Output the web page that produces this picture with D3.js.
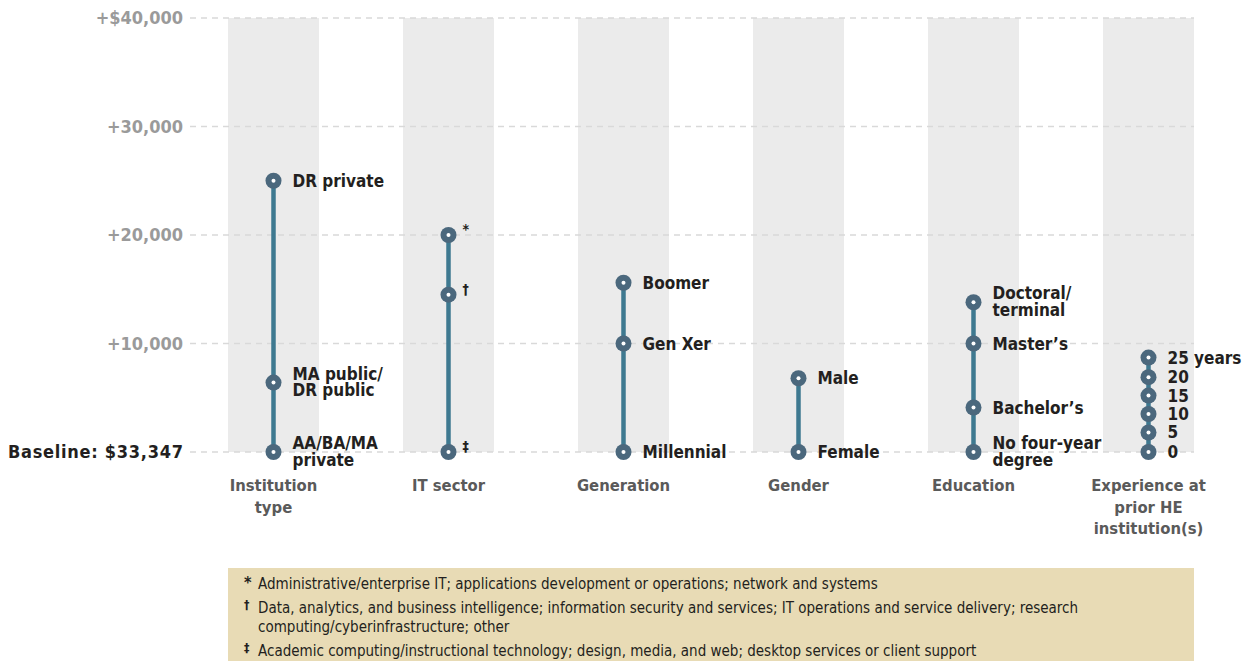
<!DOCTYPE html>
<html>
<head>
<meta charset="utf-8">
<script src="https://cdn.jsdelivr.net/npm/d3@7"></script>
<style>
  body { margin: 0; background: #fff; }
  svg text { font-family: "DejaVu Sans Condensed", "DejaVu Sans", sans-serif; }
</style>
</head>
<body>
<div id="chart"></div>
<script>
// categories along the x axis (label lines)
const categories = ["Institution type", "IT sector", "Generation", "Gender", "Education", "Experience at prior HE institution(s)"];
const categoryLines = [["Institution", "type"], ["IT sector"], ["Generation"], ["Gender"], ["Education"], ["Experience at", "prior HE", "institution(s)"]];

// salary premium over the baseline, per group
const institutionPts = [
  {label: ["DR private"], value: 25000},
  {label: ["MA public/", "DR public"], value: 6400},
  {label: ["AA/BA/MA", "private"], value: 0}
];
const sectorPts = [
  {label: ["*"], value: 20000},
  {label: ["†"], value: 14500},
  {label: ["‡"], value: 0}
];
const generationPts = [
  {label: ["Boomer"], value: 15600},
  {label: ["Gen Xer"], value: 10000},
  {label: ["Millennial"], value: 0}
];
const genderPts = [
  {label: ["Male"], value: 6800},
  {label: ["Female"], value: 0}
];
const educationPts = [
  {label: ["Doctoral/", "terminal"], value: 13800},
  {label: ["Master’s"], value: 10000},
  {label: ["Bachelor’s"], value: 4100},
  {label: ["No four-year", "degree"], value: 0}
];
const experiencePts = [
  {label: ["25 years"], value: 8700},
  {label: ["20"], value: 6900},
  {label: ["15"], value: 5200},
  {label: ["10"], value: 3500},
  {label: ["5"], value: 1800},
  {label: ["0"], value: 0}
];
const groups = [institutionPts, sectorPts, generationPts, genderPts, educationPts, experiencePts];

const yTicks = [0, 10000, 20000, 30000, 40000];
const yTickLabels = ["Baseline: $33,347", "+10,000", "+20,000", "+30,000", "+$40,000"];

const notes = [
  {sym: "*", lines: ["Administrative/enterprise IT; applications development or operations; network and systems"]},
  {sym: "†", lines: ["Data, analytics, and business intelligence; information security and services; IT operations and service delivery; research", "computing/cyberinfrastructure; other"]},
  {sym: "‡", lines: ["Academic computing/instructional technology; design, media, and web; desktop services or client support"]}
];

const W = 1245, H = 661;
const svg = d3.select("#chart").append("svg").attr("width", W).attr("height", H);

const x = d3.scaleBand().domain(categories).range([228, 1194]).paddingInner(0.48).paddingOuter(0);
const y = d3.scaleLinear().domain([0, 40000]).range([452, 18]);

// grey bands
svg.append("g").selectAll("rect").data(categories).join("rect")
  .attr("x", d => x(d)).attr("width", x.bandwidth())
  .attr("y", y(40000)).attr("height", y(0) - y(40000))
  .attr("fill", "#ebebeb");

// dashed grid
svg.append("g").selectAll("line").data(yTicks).join("line")
  .attr("x1", 190).attr("x2", 1194)
  .attr("y1", d => y(d)).attr("y2", d => y(d))
  .attr("stroke", "#d9d9d9").attr("stroke-width", 1.5).attr("stroke-dasharray", "6,5");

// y axis labels
svg.append("g").selectAll("text").data(yTicks).join("text")
  .attr("x", 183).attr("y", d => y(d)).attr("dy", "0.35em")
  .attr("text-anchor", "end").attr("font-size", 18).attr("font-weight", "bold")
  .attr("fill", (d, i) => i === 0 ? "#231f20" : "#9a9a9a")
  .attr("textLength", (d, i) => i === 0 ? 175 : null)
  .text((d, i) => yTickLabels[i]);

// category labels
const cat = svg.append("g").selectAll("text").data(categories).join("text")
  .attr("text-anchor", "middle").attr("font-size", 16.5).attr("font-weight", "bold").attr("fill", "#5a5a5a")
  .attr("transform", d => `translate(${x(d) + x.bandwidth() / 2},491)`);
cat.selectAll("tspan").data((d, i) => categoryLines[i]).join("tspan")
  .attr("x", 0).attr("y", (d, i) => i * 21.5).text(d => d);

// ranges and points
groups.forEach((pts, gi) => {
  const cx = x(categories[gi]) + x.bandwidth() / 2;
  const g = svg.append("g").attr("transform", `translate(${cx},0)`);
  g.append("line")
    .attr("y1", y(d3.max(pts, d => d.value))).attr("y2", y(d3.min(pts, d => d.value)))
    .attr("stroke", "#3e7990").attr("stroke-width", 4.5);
  const p = g.selectAll("g.pt").data(pts).join("g").attr("class", "pt")
    .attr("transform", d => `translate(0,${y(d.value)})`);
  p.append("circle").attr("r", 8).attr("fill", "#4b687d");
  p.append("circle").attr("r", 2).attr("fill", "#fff");
  const isSym = gi === 1;
  const t = p.append("text")
    .attr("font-size", isSym ? 14 : 17).attr("font-weight", "bold").attr("fill", "#231f20");
  t.selectAll("tspan").data(d => d.label).join("tspan")
    .attr("x", isSym ? 14 : 19)
    .attr("y", (d, i, n) => (isSym ? -1 : (n.length > 1 ? -3 : 6)) + i * 16.5)
    .text(d => d);
});

// footnote box
const box = svg.append("g");
box.append("rect").attr("x", 228).attr("y", 568).attr("width", 966).attr("height", H - 568).attr("fill", "#e8dbb5");
let ly = 589;
notes.forEach(n => {
  box.append("text").attr("x", 244).attr("y", ly - (n.sym === "*" ? 1 : 4))
    .attr("font-size", n.sym === "*" ? 16 : 12).attr("font-weight", "bold")
    .attr("fill", "#231f20").text(n.sym);
  n.lines.forEach((l, i) => {
    box.append("text").attr("x", 258).attr("y", ly + i * 19).attr("font-size", 15)
      .attr("fill", "#231f20").text(l);
  });
  ly += (n.lines.length - 1) * 19 + 24;
});
</script>
</body>
</html>
